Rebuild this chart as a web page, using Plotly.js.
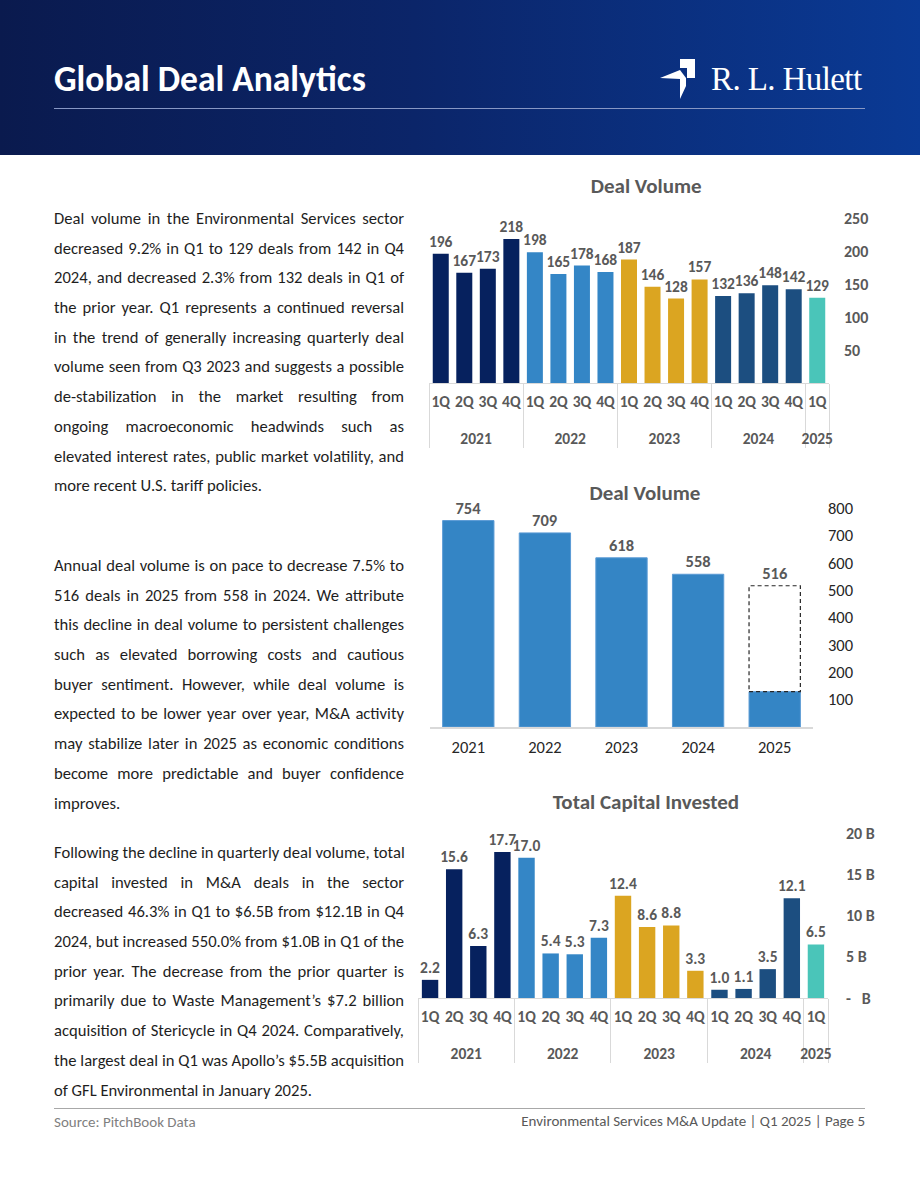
<!DOCTYPE html>
<html>
<head>
<meta charset="utf-8">
<script src="https://cdn.plot.ly/plotly-3.0.1.min.js"></script>
<style>
  html, body { margin:0; padding:0; background:#fff; }
  #page { position:relative; width:920px; height:1191px; overflow:hidden; background:#fff; font-family: Carlito, Lato, "Open Sans", sans-serif; }
  #header { position:absolute; left:0; top:0; width:920px; height:155px;
    background: linear-gradient(90deg, #0a1a4e 0%, #0b2569 45%, #0a3a95 100%); }
  #htitle { position:absolute; left:54px; top:58px; color:#fff; font-weight:700; font-size:35.5px; line-height:42px; white-space:nowrap; }
  #hline { position:absolute; left:54px; top:108px; width:811px; height:1px; background:#8797c4; }
  #logo-text { position:absolute; left:711px; top:58px; color:#fff; font-family:"Liberation Serif", "DejaVu Serif", serif; font-size:33px; line-height:42px; white-space:nowrap; letter-spacing:-0.6px; }
  #logo-icon { position:absolute; left:656px; top:56px; }
  .para { position:absolute; left:54px; width:350px; font-size:16.6px; color:#1e1e1e; }
  .ln { height:29.7px; line-height:29.7px; text-align:justify; text-align-last:justify; white-space:nowrap; }
  .ln.last { text-align:left; text-align-last:left; }
  .chart { position:absolute; }
  #fline { position:absolute; left:54px; top:1108px; width:811px; height:1px; background:#a8a8a8; }
  #fsrc { position:absolute; left:54px; top:1113px; font-size:15px; color:#7f7f7f; line-height:18px; }
  #fright { position:absolute; right:55px; top:1112px; font-size:15px; color:#595959; line-height:18px; white-space:nowrap; }
</style>
</head>
<body>
<div id="page">
  <div id="header">
    <div id="htitle">Global Deal Analytics</div>
    <svg id="logo-icon" width="44" height="46" viewBox="0 0 44 46">
      <path d="M24,3 L39,3 L39,22 L31,22 L31,12 L24,12 Z" fill="#fff"/>
      <path d="M4,22 L24,14 L30,22 L30,30 L24,43 L24,23 Z" fill="#fff"/>
    </svg>
    <div id="logo-text">R. L. Hulett</div>
    <div id="hline"></div>
  </div>

  <div class="para" id="p1" style="top:204px"></div>
  <div class="para" id="p2" style="top:551px"></div>
  <div class="para" id="p3" style="top:838px"></div>

  <div class="chart" id="c1" style="left:410px; top:165px; width:510px; height:290px;"></div>
  <div class="chart" id="c2" style="left:410px; top:475px; width:510px; height:300px;"></div>
  <div class="chart" id="c3" style="left:410px; top:785px; width:510px; height:290px;"></div>

  <div id="fline"></div>
  <div id="fsrc">Source: PitchBook Data</div>
  <div id="fright">Environmental Services M&amp;A Update | Q1 2025 | Page 5</div>
</div>

<script>
// ---------------- DATA ----------------
const quarterYears = ['2021','2021','2021','2021','2022','2022','2022','2022','2023','2023','2023','2023','2024','2024','2024','2024','2025'];
const quarterLabels = ['1Q','2Q','3Q','4Q','1Q','2Q','3Q','4Q','1Q','2Q','3Q','4Q','1Q','2Q','3Q','4Q','1Q'];
const quarterlyDealVolume = [196,167,173,218,198,165,178,168,187,146,128,157,132,136,148,142,129];
const quarterlyCapitalB = [2.2,15.6,6.3,17.7,17.0,5.4,5.3,7.3,12.4,8.6,8.8,3.3,1.0,1.1,3.5,12.1,6.5];

const annualYears = ['2021','2022','2023','2024','2025'];
const annualDealVolume = [754,709,618,558,129];      // 2025 = year-to-date (Q1)
const annualProjected = [null,null,null,null,516];   // 2025 projected

const volumeTicks = [50,100,150,200,250];
const annualTicks = [100,200,300,400,500,600,700,800];
const capitalTicks = [0,5,10,15,20];
const capitalTickText = ['-\u00a0\u00a0\u00a0B','5 B','10 B','15 B','20 B'];

const paragraph1 = [
  'Deal volume in the Environmental Services sector',
  'decreased 9.2% in Q1 to 129 deals from 142 in Q4',
  '2024, and decreased 2.3% from 132 deals in Q1 of',
  'the prior year. Q1 represents a continued reversal',
  'in the trend of generally increasing quarterly deal',
  'volume seen from Q3 2023 and suggests a possible',
  'de-stabilization in the market resulting from',
  'ongoing macroeconomic headwinds such as',
  'elevated interest rates, public market volatility, and',
  'more recent U.S. tariff policies.'
];
const paragraph2 = [
  'Annual deal volume is on pace to decrease 7.5% to',
  '516 deals in 2025 from 558 in 2024. We attribute',
  'this decline in deal volume to persistent challenges',
  'such as elevated borrowing costs and cautious',
  'buyer sentiment. However, while deal volume is',
  'expected to be lower year over year, M&A activity',
  'may stabilize later in 2025 as economic conditions',
  'become more predictable and buyer confidence',
  'improves.'
];
const paragraph3 = [
  'Following the decline in quarterly deal volume, total',
  'capital invested in M&A deals in the sector',
  'decreased 46.3% in Q1 to $6.5B from $12.1B in Q4',
  '2024, but increased 550.0% from $1.0B in Q1 of the',
  'prior year. The decrease from the prior quarter is',
  'primarily due to Waste Management\u2019s $7.2 billion',
  'acquisition of Stericycle in Q4 2024. Comparatively,',
  'the largest deal in Q1 was Apollo\u2019s $5.5B acquisition',
  'of GFL Environmental in January 2025.'
];

// ---------------- TEXT ----------------
function fillPara(id, lines) {
  const el = document.getElementById(id);
  lines.forEach((t, i) => {
    const d = document.createElement('div');
    d.className = 'ln' + (i === lines.length - 1 ? ' last' : '');
    d.textContent = t;
    el.appendChild(d);
  });
}
fillPara('p1', paragraph1);
fillPara('p2', paragraph2);
fillPara('p3', paragraph3);

// ---------------- STYLE ----------------
const FONT = 'Carlito, Lato, "Open Sans", sans-serif';
const GRAY = '#595959';
const yearColors = { '2021':'#06215e', '2022':'#3486c6', '2023':'#dba521', '2024':'#1c4e80', '2025':'#4ac5b9' };
const barColors = quarterYears.map(y => yearColors[y]);
const cfg = { staticPlot:true, displayModeBar:false };
// year row sits one text line lower than the quarter row
const yearRow = quarterYears.map(y => '<br>' + y);

function quarterlyChart(div, values, title, titlePos, dom, yRange, tickvals, ticktext, fmt, standoff) {
  const trace = {
    type:'bar',
    x:[yearRow, quarterLabels],
    y:values,
    marker:{ color:barColors, line:{ width:0 } },
    texttemplate: fmt,
    textposition:'outside',
    constraintext:'none',
    cliponaxis:false,
    textfont:{ family:FONT, size:15.5, color:GRAY, weight:'bold' },
    hoverinfo:'skip'
  };
  const layout = {
    width:510, height:290,
    margin: dom,
    paper_bgcolor:'rgba(0,0,0,0)', plot_bgcolor:'rgba(0,0,0,0)',
    showlegend:false,
    bargap:0.32,
    title:{ text:title, font:{ family:FONT, size:21, color:GRAY, weight:'bold' }, xref:'paper', x:titlePos.x, xanchor:'center', yref:'container', y:titlePos.y, yanchor:'middle' },
    xaxis:{ type:'multicategory', tickangle:0, showline:true, linecolor:'#d9d9d9', linewidth:1, showdividers:true, dividercolor:'#d9d9d9', dividerwidth:1, ticks:'', showgrid:false, zeroline:false,
      ticklabelstandoff:4, tickfont:{ family:FONT, size:15.5, color:GRAY, weight:'bold' } },
    yaxis:{ side:'right', range:yRange, tickvals:tickvals, ticktext:ticktext, showgrid:false, zeroline:false, showline:false, ticks:'',
      ticklabelstandoff:standoff, tickfont:{ family:FONT, size:16, color:GRAY, weight:'bold' } }
  };
  Plotly.newPlot(div, [trace], layout, cfg);
}

// Chart 1 : quarterly deal volume
quarterlyChart('c1', quarterlyDealVolume, 'Deal Volume', { x:0.543, y:1 - 21/290 },
  { l:18.7, r:91.2, t:53, b:72 }, [0,250], volumeTicks, volumeTicks.map(String), '%{y}', 14);

// Chart 3 : total capital invested
quarterlyChart('c3', quarterlyCapitalB, 'Total Capital Invested', { x:0.556, y:1 - 17/290 },
  { l:8, r:92.3, t:48, b:77 }, [0,20], capitalTicks, capitalTickText, '%{y:.1f}', 17);

// Chart 2 : annual deal volume
(function(){
  const actualText = annualDealVolume.map((v,i) => annualProjected[i] == null ? String(v) : '');
  const projBase = annualProjected.map((p,i) => p == null ? null : annualDealVolume[i]);
  const projRemain = annualProjected.map((p,i) => p == null ? null : p - annualDealVolume[i]);
  const projText = annualProjected.map(p => p == null ? '' : String(p));
  const textfont = { family:FONT, size:16.5, color:GRAY, weight:'bold' };
  const traces = [
    { type:'bar', x:annualYears, y:annualDealVolume, marker:{ color:'#3485c5', line:{ color:'#5b9bd5', width:1 } },
      text:actualText, textposition:'outside', constraintext:'none', cliponaxis:false, textfont:textfont, hoverinfo:'skip' },
    { type:'bar', x:annualYears, y:projRemain, base:projBase, marker:{ color:'rgba(255,255,255,0)', line:{ width:0 } },
      text:projText, textposition:'outside', constraintext:'none', cliponaxis:false, textfont:textfont, hoverinfo:'skip' }
  ];
  const half = (1 - 0.33) / 2;
  const shapes = [];
  annualProjected.forEach((p,i) => {
    if (p == null) return;
    shapes.push({ type:'rect', xref:'x', yref:'y', x0:i - half, x1:i + half, y0:annualDealVolume[i], y1:p,
      line:{ color:'#262626', width:1.2, dash:'4px,3px' }, fillcolor:'rgba(0,0,0,0)', layer:'above' });
  });
  const layout = {
    width:510, height:300,
    margin:{ l:20, r:107, t:33, b:47.5 },
    paper_bgcolor:'rgba(0,0,0,0)', plot_bgcolor:'rgba(0,0,0,0)',
    showlegend:false, barmode:'overlay', bargap:0.33,
    title:{ text:'Deal Volume', font:{ family:FONT, size:21, color:GRAY, weight:'bold' }, xref:'paper', x:0.561, xanchor:'center', yref:'container', y:1 - 18/300, yanchor:'middle' },
    xaxis:{ type:'category', showline:true, linecolor:'#d9d9d9', linewidth:1.5, ticks:'', showgrid:false, zeroline:false,
      ticklabelstandoff:5, tickfont:{ family:FONT, size:16.5, color:'#262626' } },
    yaxis:{ side:'right', range:[0,800], tickvals:annualTicks, showgrid:false, zeroline:false, showline:false, ticks:'',
      ticklabelstandoff:14, tickfont:{ family:FONT, size:16.5, color:'#262626' } },
    shapes:shapes
  };
  Plotly.newPlot('c2', traces, layout, cfg);
})();
</script>
</body>
</html>
